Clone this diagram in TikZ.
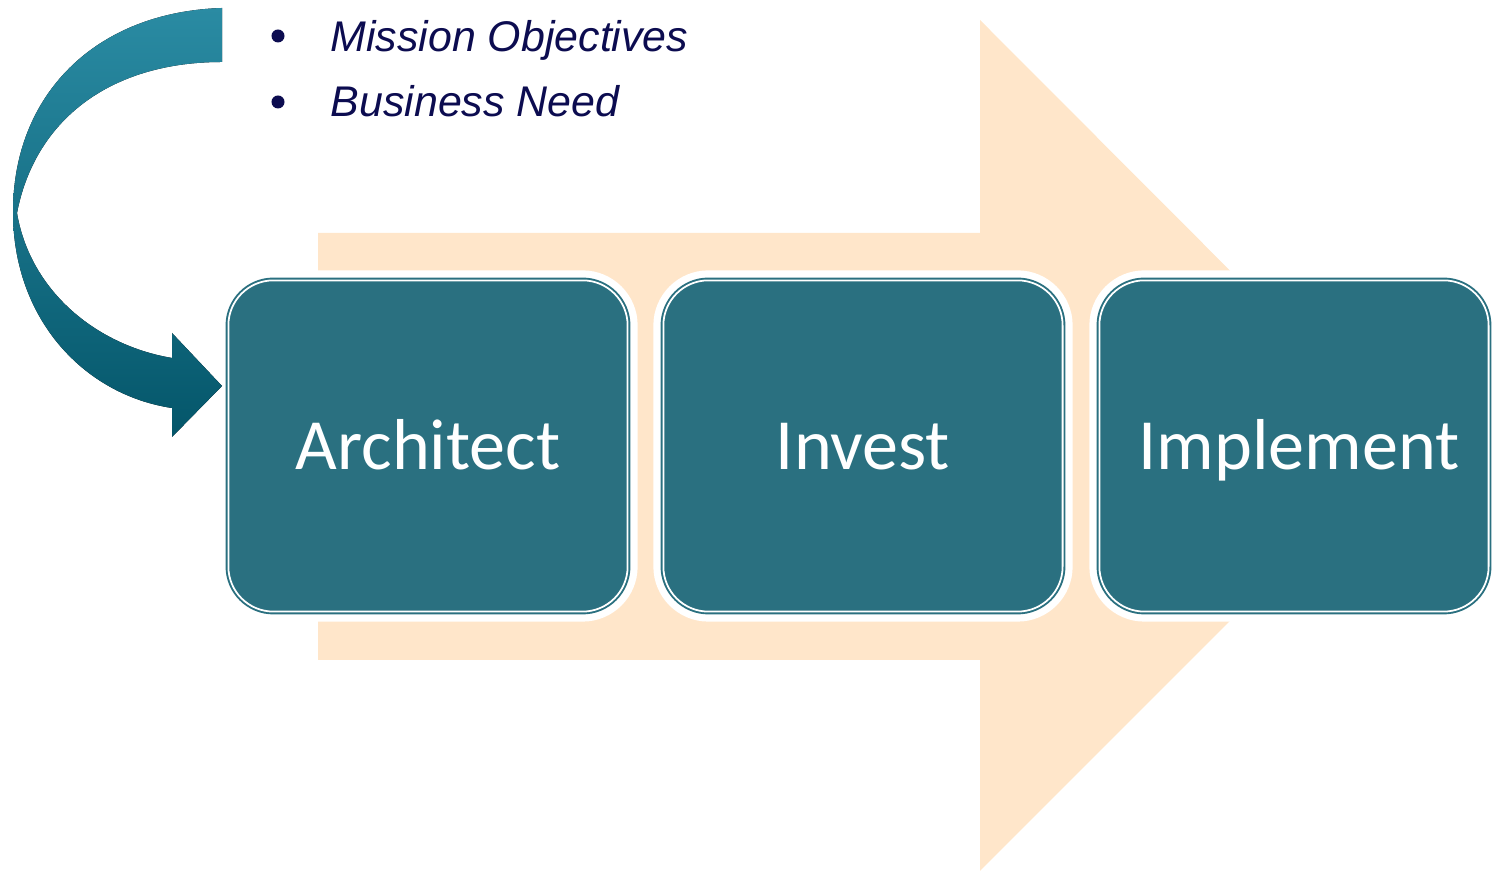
\documentclass[tikz,border=0pt]{standalone}
\usepackage{fontspec}
\setmainfont{Liberation Sans}
\newfontfamily\boxfont{Carlito}
\usetikzlibrary{calc}
\definecolor{boxteal}{HTML}{2A7080}
\definecolor{peach}{HTML}{FFE6CA}
\definecolor{navy}{HTML}{0C0C50}
\definecolor{arrowtop}{HTML}{2A8BA3}
\definecolor{arrowbot}{HTML}{04566A}

\begin{document}
\begin{tikzpicture}[x=0.01cm, y=-0.01cm,
    box/.style = {draw=boxteal, line width=0.55pt, double=white, double distance=0.5pt,
      fill=boxteal, rounded corners=0.45cm, minimum height=3.31cm,
      preaction={draw=white, line width=5.7pt},
      text=white, font=\boxfont\fontsize{20.5}{24}\selectfont,
      text height=13.2pt, text depth=0pt, inner sep=0pt},
    item/.style = {anchor=base west, inner sep=0pt, text=navy,
      font=\itshape\fontsize{12.2}{14}\selectfont},
    dot/.style = {circle, fill=navy, inner sep=0pt, minimum size=0.13cm}]
  \useasboundingbox (0,0) rectangle (1493,871);
  \clip (0,0) rectangle (1493,871);

  % big background arrow
  \fill[peach] (318,233) -- (980,233) -- (980,20) -- (1405,446)
    -- (980,871) -- (980,660) -- (318,660) -- cycle;

  \node[box, minimum width=3.99cm] (arch) at (428,446) {Architect};
  \node[box, minimum width=3.99cm] (invest) at (863,446) {Invest};
  \node[box, minimum width=3.89cm] (impl) at (1294,446) {\hspace*{0.1cm}Implement};

  % curved arrow into the first step
  \fill[top color=arrowtop, bottom color=arrowbot]
    (222,8) .. controls (95,12) and (13,95) .. (13,212)
    .. controls (13,320) and (85,395) .. (172,408)
    -- (172,437) -- (222,386) -- (172,333) -- (172,358)
    .. controls (95,345) and (30,290) .. (17,213)
    .. controls (35,120) and (110,62) .. (222,62) -- cycle;

  \node[dot] (dota) at (278,36) {};
  \node[dot] (dotb) at (278,102) {};
  \node[item] (mission) at (330,52) {Mission Objectives};
  \node[item] (need) at (330,117) {Business Need};
\end{tikzpicture}
\end{document}
